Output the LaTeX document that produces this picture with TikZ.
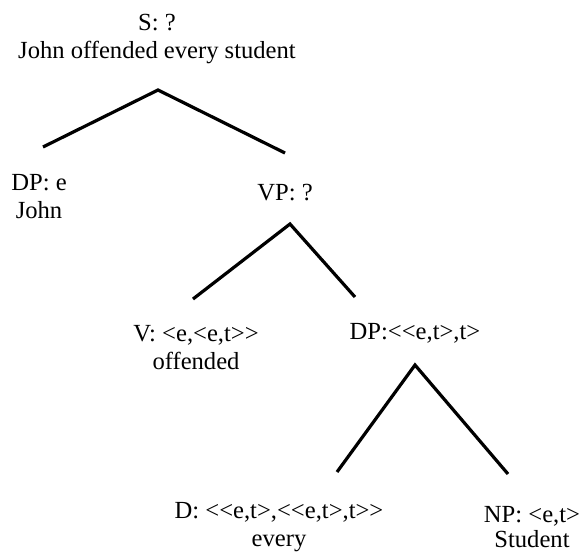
\documentclass[tikz,border=0pt]{standalone}
\usepackage{fontspec}
\setmainfont[Ligatures=TeXOff]{Liberation Serif}
\begin{document}
\begin{tikzpicture}[x=1pt,y=-1pt,
  lbl/.style={align=center, inner sep=0pt, font=\fontsize{24.6}{28}\selectfont},
  branch/.style={line width=3.2pt, line join=miter}]
\useasboundingbox (0,0) rectangle (586,554);
% labels of the tree
\node[lbl] (s)   at (157,39)  {S: ?\\John offended every student};
\node[lbl] (dpj) at (39,197)  {DP: e\\John};
\node[lbl] (vp)  at (285,193) {VP: ?};
\node[lbl] (v)   at (196,348) {V: <e,<e,t>>\\offended};
\node[lbl] (dpq) at (415,333) {DP:<<e,t>,t>};
\node[lbl] (d)   at (279,527) {D: <<e,t>,<<e,t>,t>>\\every};
\node[lbl, font=\fontsize{24.6}{25}\selectfont] (np) at (532,527) {NP: <e,t>\\Student};
% branch points
\coordinate (sTop) at (158,90);
\coordinate (sL)   at (43,147);
\coordinate (sR)   at (285,153);
\coordinate (vpTop) at (290,224);
\coordinate (vpL)   at (193,299);
\coordinate (vpR)   at (355,297);
\coordinate (dpTop) at (415,365);
\coordinate (dpL)   at (337,472);
\coordinate (dpR)   at (508,474);
% branches
\draw[branch] (sL) -- (sTop) -- (sR);
\draw[branch] (vpL) -- (vpTop) -- (vpR);
\draw[branch] (dpL) -- (dpTop) -- (dpR);
\end{tikzpicture}
\end{document}
